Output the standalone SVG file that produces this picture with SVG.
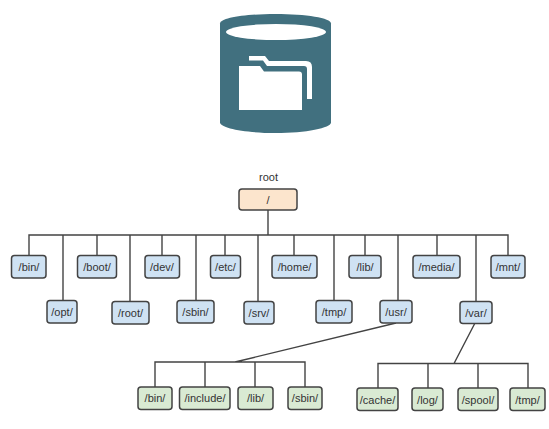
<svg xmlns="http://www.w3.org/2000/svg" width="549" height="429" viewBox="0 0 549 429">
<style>
.n rect{stroke:#434343;stroke-width:1.5}
.b rect{fill:#cfe2f3}
.g rect{fill:#d9ead3}
.o rect{fill:#fce5cd}
text{font-family:"Liberation Sans",Arial,sans-serif;font-size:11px;fill:#333;text-anchor:middle}
#connectors path{fill:none;stroke:#434343;stroke-width:1.4}
</style>
<rect width="549" height="429" fill="#fff"/>
<g id="cylinder-icon">
<path d="M220 23.500C220 18 245 14 275.500 14C306 14 331 18 331 23.500V122.500C331 128 306 133 275.500 133C245 133 220 128 220 122.500Z" fill="#41707f"/>
<ellipse cx="276" cy="32" rx="50" ry="8" fill="#fff"/>
<path d="M239 66H260L264 71.500H299Q302 71.500 302 74.500V110H239Z" fill="#fff"/>
<path d="M249 56H265L269 61H306Q312 61 312 67V99H307V69Q307 66 304 66H267L263 60.500H249Z" fill="#fff"/>
</g>
<g id="connectors">
<path d="M268 210V235M29 255V235H508V255M63 235V300M97 235V255M130 235V301M162 235V255M196 235V300M225 235V255M258 235V301M294 235V255M334 235V300M365 235V255M398 235V300M437 235V255M476 235V301"/>
<path d="M396 323L235 362M155 387V362H305V387M205 362V387M255 362V387"/>
<path d="M475 323L454 363.500M378 388V363.500H528V388M428 363.500V388M478 363.500V388"/>
</g>
<text x="268.500" y="181" id="root-label">root</text>
<g id="node-root" class="n o"><rect x="239" y="189" width="58" height="21" rx="3"/><text x="268" y="203.500">/</text></g>
<g id="node-bin" class="n b"><rect x="11.500" y="255.500" width="34.500" height="22.500" rx="3"/><text x="29" y="270.500">/bin/</text></g>
<g id="node-boot" class="n b"><rect x="77.500" y="255.500" width="39" height="22.500" rx="3"/><text x="97" y="270.500">/boot/</text></g>
<g id="node-dev" class="n b"><rect x="145" y="255.500" width="34.500" height="22.500" rx="3"/><text x="162" y="270.500">/dev/</text></g>
<g id="node-etc" class="n b"><rect x="210.500" y="255.500" width="30" height="22.500" rx="3"/><text x="225.500" y="270.500">/etc/</text></g>
<g id="node-home" class="n b"><rect x="272" y="255.500" width="45" height="22.500" rx="3"/><text x="294.500" y="270.500">/home/</text></g>
<g id="node-lib" class="n b"><rect x="349" y="255.500" width="32" height="22.500" rx="3"/><text x="365" y="270.500">/lib/</text></g>
<g id="node-media" class="n b"><rect x="413" y="255.500" width="47" height="22.500" rx="3"/><text x="436.500" y="270.500">/media/</text></g>
<g id="node-mnt" class="n b"><rect x="491" y="255.500" width="34" height="22.500" rx="3"/><text x="508" y="270.500">/mnt/</text></g>
<g id="node-opt" class="n b"><rect x="47" y="300.500" width="30" height="22.500" rx="3"/><text x="62" y="315.500">/opt/</text></g>
<g id="node-root-dir" class="n b"><rect x="112" y="301.500" width="37" height="22.500" rx="3"/><text x="130.500" y="316.500">/root/</text></g>
<g id="node-sbin" class="n b"><rect x="177" y="300.500" width="37" height="22.500" rx="3"/><text x="195.500" y="315.500">/sbin/</text></g>
<g id="node-srv" class="n b"><rect x="244" y="301.500" width="30" height="22.500" rx="3"/><text x="259" y="316.500">/srv/</text></g>
<g id="node-tmp" class="n b"><rect x="316" y="300.500" width="36" height="22.500" rx="3"/><text x="334" y="315.500">/tmp/</text></g>
<g id="node-usr" class="n b"><rect x="380" y="300.500" width="32" height="22.500" rx="3"/><text x="396" y="315.500">/usr/</text></g>
<g id="node-var" class="n b"><rect x="460" y="301.500" width="32" height="22" rx="3"/><text x="476" y="316.500">/var/</text></g>
<g id="node-usr-bin" class="n g"><rect x="138" y="387" width="34" height="22.500" rx="3"/><text x="155" y="402">/bin/</text></g>
<g id="node-usr-include" class="n g"><rect x="179.500" y="387" width="50.500" height="22.500" rx="3"/><text x="205" y="402">/include/</text></g>
<g id="node-usr-lib" class="n g"><rect x="238" y="387" width="35" height="22.500" rx="3"/><text x="255.500" y="402">/lib/</text></g>
<g id="node-usr-sbin" class="n g"><rect x="288" y="387" width="34" height="22.500" rx="3"/><text x="305" y="402">/sbin/</text></g>
<g id="node-cache" class="n g"><rect x="357" y="388" width="41" height="22.500" rx="3"/><text x="377.500" y="403.500">/cache/</text></g>
<g id="node-log" class="n g"><rect x="412" y="388" width="31" height="22.500" rx="3"/><text x="427.500" y="403.500">/log/</text></g>
<g id="node-spool" class="n g"><rect x="458" y="388" width="40" height="22.500" rx="3"/><text x="478" y="403.500">/spool/</text></g>
<g id="node-var-tmp" class="n g"><rect x="510" y="388" width="35" height="22.500" rx="3"/><text x="527.500" y="403.500">/tmp/</text></g>
</svg>
